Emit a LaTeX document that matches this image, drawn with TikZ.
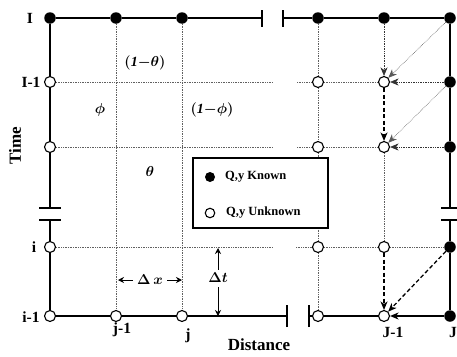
\documentclass[tikz,border=0pt]{standalone}
\usepackage{fontspec}
\setmainfont{Liberation Serif}
\usetikzlibrary{arrows.meta,backgrounds}
\begin{document}
\begin{tikzpicture}[x=1pt,y=-1pt,
  known/.style={circle,fill=black,inner sep=0pt,minimum size=11.5pt},
  unk/.style={circle,draw=black,fill=white,line width=1.1pt,inner sep=0pt,minimum size=11pt},
  border/.style={line width=1.3pt,black},
  gridl/.style={line width=0.7pt,gray!75!black,densely dotted},
  thindot/.style={line width=0.6pt,gray!70!black,densely dotted},
  dsh/.style={line width=1.3pt,black,dash pattern=on 4pt off 2.5pt},
  arr/.style={-{Stealth[length=8.5pt,width=7pt,inset=2.5pt]}},
  sarr/.style={-{Stealth[length=6pt,width=6pt]}},
  lab/.style={font=\fontsize{15.5}{15.5}\selectfont\bfseries,inner sep=0pt},
  big/.style={font=\fontsize{17}{17}\selectfont\bfseries,inner sep=0pt},
  grk/.style={font=\fontsize{14}{14}\selectfont\boldmath,inner sep=0pt},
  leg/.style={font=\fontsize{12.5}{12.5}\selectfont\bfseries,inner sep=0pt,anchor=west}]
\useasboundingbox (0,0) rectangle (457,356);
% nodes row 1 (I)
\node[known] (n11) at (50,18) {};
\node[known] (n12) at (116,18) {};
\node[known] (n13) at (182,18) {};
\node[known] (n14) at (318,18) {};
\node[known] (n15) at (384,18) {};
\node[known] (n16) at (450,18) {};
% row 2 (I-1)
\node[unk] (n21) at (50,82) {};
\node[unk] (n24) at (318,82) {};
\node[unk] (n25) at (384,82) {};
\node[known] (n26) at (450,82) {};
% row 3
\node[unk] (n31) at (50,147) {};
\node[unk] (n34) at (318,147) {};
\node[unk] (n35) at (384,147) {};
\node[known] (n36) at (450,147) {};
% row 4 (i)
\node[unk] (n41) at (50,247) {};
\node[unk] (n44) at (318,247) {};
\node[unk] (n45) at (384,247) {};
\node[known] (n46) at (450,247) {};
% row 5 (i-1)
\node[unk] (n51) at (50,316) {};
\node[unk] (n52) at (116,316) {};
\node[unk] (n53) at (182,316) {};
\node[unk] (n54) at (318,316) {};
\node[unk] (n55) at (384,316) {};
\node[known] (n56) at (450,316) {};
% break coordinates
\coordinate (t1) at (262,18); \coordinate (t2) at (283,18);
\coordinate (l1) at (50,208); \coordinate (l2) at (50,220);
\coordinate (r1) at (450,208); \coordinate (r2) at (450,220);
\coordinate (b1) at (287,316); \coordinate (b2) at (309,316);
\coordinate (g21) at (273,82); \coordinate (g22) at (297,82);
\coordinate (g31) at (273,147); \coordinate (g32) at (297,147);
\coordinate (g41) at (273,247); \coordinate (g42) at (296,247);
% legend
\node[draw,line width=1.1pt,fill=white,minimum width=135pt,minimum height=70pt,inner sep=0pt] (legend) at (260.5,193) {};
\draw[line width=1.8pt] (legend.south west) -- (legend.south east) -- (legend.north east);
\node[known,minimum size=10pt] (lk) at (210,177) {};
\node[unk,minimum size=9.5pt] (lu) at (210,213) {};
\node[leg] (lkt) at (225,177) {Q,y Known};
\node[leg] (lut) at (226,213) {Q,y Unknown};
% labels
\node[lab] (LI) at (30,18) {I};
\node[lab] (LI1) at (31,82) {I-1};
\node[lab] (Li) at (34,247) {i};
\node[lab] (Li1) at (31,317) {i-1};
\node[lab] (Lj1) at (122,330) {j-1};
\node[lab] (Lj) at (188,336) {j};
\node[lab] (LJ1) at (393,332) {J-1};
\node[lab] (LJ) at (453,332) {J};
\node[big] (Ldist) at (259,345) {Distance};
\node[big,rotate=90] (Ltime) at (15,146) {Time};
\node[grk] (g1) at (145,63) {$(\mathit{1}{-}\theta)$};
\node[grk] (g2) at (100,110) {$\phi$};
\node[grk] (g3) at (212,110) {$(\mathit{1}{-}\phi)$};
\node[grk] (g4) at (150,171) {$\theta$};
\node[grk] (dx) at (150,280) {$\Delta\,x$};
\node[grk] (dt) at (218,278) {$\Delta t$};
\coordinate (dxl) at (118,280); \coordinate (dxr) at (182,280);
\coordinate (dtu) at (218,248); \coordinate (dtd) at (218,316);
\draw[line width=0.9pt,sarr] ([xshift=-4pt]dx.west) -- (dxl);
\draw[line width=0.9pt,sarr] ([xshift=4pt]dx.east) -- (dxr);
\draw[line width=0.9pt,sarr] ([yshift=3pt]dt.north) -- (dtu);
\draw[line width=0.9pt,sarr] ([yshift=-4pt]dt.south) -- (dtd);
\begin{pgfonlayer}{background}
\fill[white] (0,0) rectangle (457,356);
% grid
\draw[gridl] (n12) -- (n52);
\draw[gridl] (n13) -- (n53);
\draw[gridl] (n14) -- (n24) -- (n34) -- (n44) -- (n54);
\draw[gridl] (n21) -- (g21); \draw[gridl] (g22) -- (n24) -- (n25);
\draw[gridl] (n31) -- (g31); \draw[gridl] (g32) -- (n34) -- (n35);
\draw[gridl] (n41) -- (g41); \draw[gridl] (g42) -- (n44) -- (n45) -- (n46);
\draw[gridl] (n35) -- (n45);
% border
\draw[border] (n11) -- (n12) -- (n13) -- (t1);
\draw[border] (t2) -- (n14) -- (n15) -- (n16);
\draw[border] (n11) -- (n21) -- (n31) -- (l1);
\draw[border] (l2) -- (n41) -- (n51);
\draw[border] (n16) -- (n26) -- (n36) -- (r1);
\draw[border] (r2) -- (n46) -- (n56);
\draw[border] (n51) -- (n52) -- (n53) -- (b1);
\draw[border] (b2) -- (n54) -- (n55);
\end{pgfonlayer}
% break ticks
\draw[border] ([yshift=-8.5pt]t1) -- ([yshift=8.5pt]t1);
\draw[border] ([yshift=-8.5pt]t2) -- ([yshift=8.5pt]t2);
\draw[border] ([xshift=-11pt]l1) -- ([xshift=11pt]l1);
\draw[border] ([xshift=-11pt]l2) -- ([xshift=11pt]l2);
\draw[border] ([xshift=-9pt]r1) -- ([xshift=11pt]r1);
\draw[border] ([xshift=-9pt]r2) -- ([xshift=11pt]r2);
\draw[border] ([yshift=-11pt]b1) -- ([yshift=11pt]b1);
\draw[border] ([yshift=-11pt]b2) -- ([yshift=11pt]b2);
% arrows into unknowns
\draw[gridl,arr,black!80] (n15) -- (n25);
\draw[thindot,arr] (n16) -- (n25);
\draw[gridl,arr,black!80] (n26) -- (n25);
\draw[dsh,arr] (n25) -- (n35);
\draw[thindot,arr] (n26) -- (n35);
\draw[gridl,arr,black!80] (n36) -- (n35);
\draw[dsh,arr] (n45) -- (n55);
\draw[dsh,arr] (n46) -- (n55);
\draw[border,arr] (n56) -- (n55);
\end{tikzpicture}
\end{document}
